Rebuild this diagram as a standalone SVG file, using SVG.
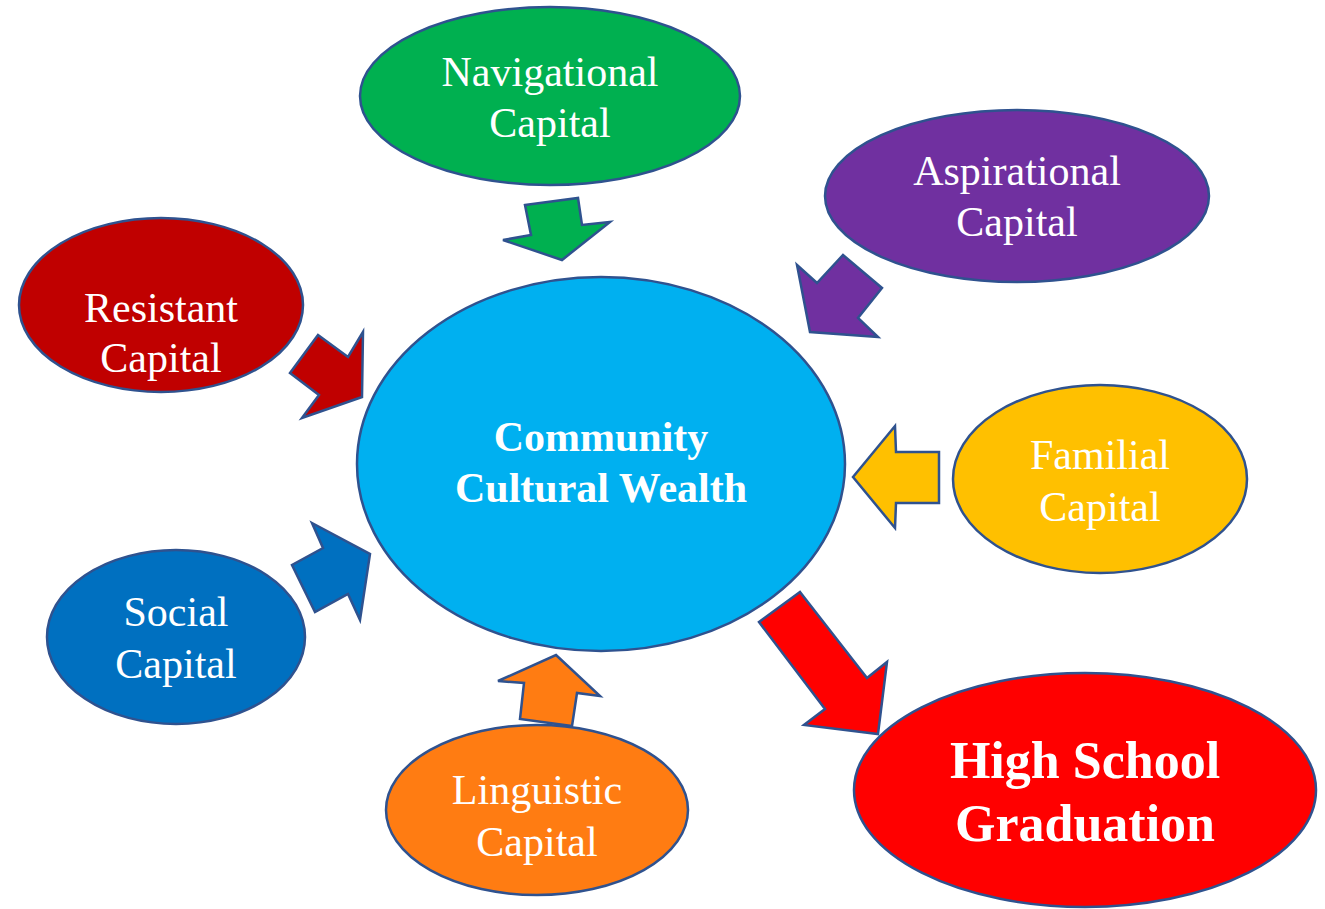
<svg xmlns="http://www.w3.org/2000/svg" width="1325" height="909" viewBox="0 0 1325 909">
  <style>
    .shape { stroke: #2F528F; stroke-width: 2.5; stroke-linejoin: miter; }
    .lbl { font-family: "Liberation Serif", "Times New Roman", serif; fill: #FFFFFF; text-anchor: middle; }
    .cap { font-size: 42px; }
    .bold { font-weight: bold; }
  </style>
  <rect width="1325" height="909" fill="#FFFFFF"/>

  <!-- block arrows feeding into / out of the centre -->
  <g id="connectors">
    <polygon class="shape" fill="#00B050" points="525,205 578,198 582,225 610,222 562,260 503,240 531,235"/>
    <polygon class="shape" fill="#7030A0" points="797,265 817,283 843,255 882,288 858,318 878,337 810,332"/>
    <polygon class="shape" fill="#C00000" points="318,335 348,357 363,332 362,397 302,418 319,395 290,373"/>
    <polygon class="shape" fill="#FFC000" points="853,477 895,426 896,452 939,452 939,503 896,503 895,528"/>
    <polygon class="shape" fill="#0070C0" points="312,523 370,554 360,620 348,594 315,612 292,565 323,548"/>
    <polygon class="shape" fill="#FF7C12" points="556,655 600,696 577,693 572,726 520,719 524,683 498,681"/>
    <polygon class="shape" fill="#FF0000" points="800,592 867,678 887,662 878,734 804,725 825,709 759,622"/>
  </g>

  <g id="navigational">
    <ellipse class="shape" fill="#00B050" cx="550" cy="96" rx="190" ry="89"/>
    <text class="lbl cap" x="550" y="86">Navigational</text>
    <text class="lbl cap" x="550" y="137">Capital</text>
  </g>

  <g id="aspirational">
    <ellipse class="shape" fill="#7030A0" cx="1017" cy="196" rx="192" ry="86"/>
    <text class="lbl cap" x="1017" y="185">Aspirational</text>
    <text class="lbl cap" x="1017" y="236">Capital</text>
  </g>

  <g id="resistant">
    <ellipse class="shape" fill="#C00000" cx="161" cy="305" rx="142" ry="87"/>
    <text class="lbl cap" x="161" y="322">Resistant</text>
    <text class="lbl cap" x="161" y="372">Capital</text>
  </g>

  <g id="community">
    <ellipse class="shape" fill="#00B0F0" cx="601" cy="464" rx="244" ry="187"/>
    <text class="lbl bold" font-size="42" x="601" y="451">Community</text>
    <text class="lbl bold" font-size="42" x="601" y="502">Cultural Wealth</text>
  </g>

  <g id="familial">
    <ellipse class="shape" fill="#FFC000" cx="1100" cy="479" rx="147" ry="94"/>
    <text class="lbl cap" x="1100" y="469">Familial</text>
    <text class="lbl cap" x="1100" y="521">Capital</text>
  </g>

  <g id="social">
    <ellipse class="shape" fill="#0070C0" cx="176" cy="637" rx="129" ry="87"/>
    <text class="lbl cap" x="176" y="626">Social</text>
    <text class="lbl cap" x="176" y="678">Capital</text>
  </g>

  <g id="linguistic">
    <ellipse class="shape" fill="#FF7C12" cx="537" cy="810" rx="151" ry="85"/>
    <text class="lbl cap" x="537" y="804">Linguistic</text>
    <text class="lbl cap" x="537" y="856">Capital</text>
  </g>

  <g id="graduation">
    <ellipse class="shape" fill="#FF0000" cx="1085" cy="790" rx="231" ry="117"/>
    <text class="lbl bold" font-size="52" x="1085" y="778">High School</text>
    <text class="lbl bold" font-size="52" x="1085" y="841">Graduation</text>
  </g>
</svg>
